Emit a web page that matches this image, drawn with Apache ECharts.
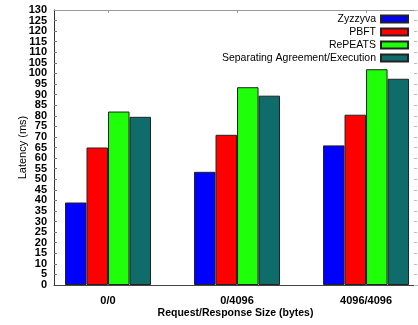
<!DOCTYPE html>
<html>
<head>
<meta charset="utf-8">
<script src="https://cdn.jsdelivr.net/npm/echarts@6/dist/echarts.min.js"></script>
<style>
  html, body { margin: 0; padding: 0; background: #fff; }
  #chart { width: 418px; height: 325px; }
</style>
</head>
<body>
<div id="chart"></div>
<script>
// request/response sizes on the x axis
const categories = ["0/0", "0/4096", "4096/4096"];
const seriesNames = ["Zyzzyva", "PBFT", "RePEATS", "Separating Agreement/Execution"];
// latency in ms
const zyzzyva = [39, 53.5, 66];
const pbft = [65, 71, 80.5];
const repeats = [82, 93.5, 102];
const separating = [79.5, 89.5, 97.5];
// y range; the end labels go on a helper axis so echarts does not drop them
const yMin = 0;
const yMax = 130;
const yStep = 5;
const colors = ["#0000ff", "#ff0000", "#1eff0a", "#106c6a"];

const font = "Liberation Sans, Arial, sans-serif";
const catIdx = categories.map((c, i) => i);
const yLabel = { fontFamily: font, fontSize: 11, fontWeight: "bold", color: "#000", margin: 7 };

function makeBar(name, values, color) {
  return {
    name: name,
    type: "bar",
    barWidth: 21.5,
    barGap: "0%",
    data: values.map((v, i) => [i, v]),
    itemStyle: { color: color, borderColor: "#222", borderWidth: 1 },
  };
}

const chart = echarts.init(document.getElementById("chart"));
chart.setOption({
  animation: false,
  textStyle: { fontFamily: font },
  grid: { left: 54, right: 1, top: 10, bottom: 40, outerBoundsMode: "none" },
  legend: {
    orient: "vertical",
    align: "right",
    right: 4,
    top: 8,
    icon: "rect",
    itemWidth: 27,
    itemHeight: 7,
    itemGap: 1,
    textStyle: { fontFamily: font, fontSize: 10.5, color: "#000", lineHeight: 12 },
    data: seriesNames,
  },
  xAxis: [
    {
      type: "value",
      min: -0.4186,
      max: 2.395,
      name: "Request/Response Size (bytes)",
      nameLocation: "middle",
      nameGap: 23,
      nameMoveOverlap: false,
      nameTextStyle: { fontFamily: font, fontSize: 10.5, fontWeight: "bold", color: "#000" },
      axisLine: { show: true, onZero: false, lineStyle: { color: "#444" } },
      axisTick: { show: false },
      splitLine: { show: false },
      axisLabel: {
        customValues: catIdx,
        formatter: v => categories[Math.round(v)],
        fontFamily: font, fontSize: 11, fontWeight: "bold", color: "#000", margin: 10,
      },
    },
    {
      type: "value",
      position: "top",
      min: -0.4186,
      max: 2.395,
      axisLine: { show: true, onZero: false, lineStyle: { color: "#999" } },
      axisTick: { show: true, inside: true, length: 3, customValues: catIdx, lineStyle: { color: "#999" } },
      axisLabel: { show: false },
      splitLine: { show: false },
    },
  ],
  yAxis: [
    {
      type: "value",
      position: "left",
      min: yMin,
      max: yMax,
      interval: yStep,
      name: "Latency (ms)",
      nameLocation: "middle",
      nameGap: 26,
      nameMoveOverlap: false,
      nameTextStyle: { fontFamily: font, fontSize: 11, color: "#000" },
      axisLine: { show: true, onZero: false, lineStyle: { color: "#333" } },
      axisTick: { show: true, inside: true, length: 3, lineStyle: { color: "#777" } },
      axisLabel: yLabel,
      splitLine: { show: false },
    },
    {
      type: "value",
      position: "right",
      min: yMin,
      max: yMax,
      interval: yStep,
      axisLine: { show: false, onZero: false },
      axisTick: { show: true, inside: true, length: 3, lineStyle: { color: "#bbb" } },
      axisLabel: { show: false },
      splitLine: { show: false },
    },
    {
      type: "value",
      position: "left",
      min: yMin,
      max: yMax,
      axisLine: { show: false, onZero: false },
      axisTick: { show: false },
      axisLabel: Object.assign({ customValues: [yMin, yMax] }, yLabel),
      splitLine: { show: false },
    },
  ],
  series: [
    makeBar(seriesNames[0], zyzzyva, colors[0]),
    makeBar(seriesNames[1], pbft, colors[1]),
    makeBar(seriesNames[2], repeats, colors[2]),
    makeBar(seriesNames[3], separating, colors[3]),
  ],
});
</script>
</body>
</html>
